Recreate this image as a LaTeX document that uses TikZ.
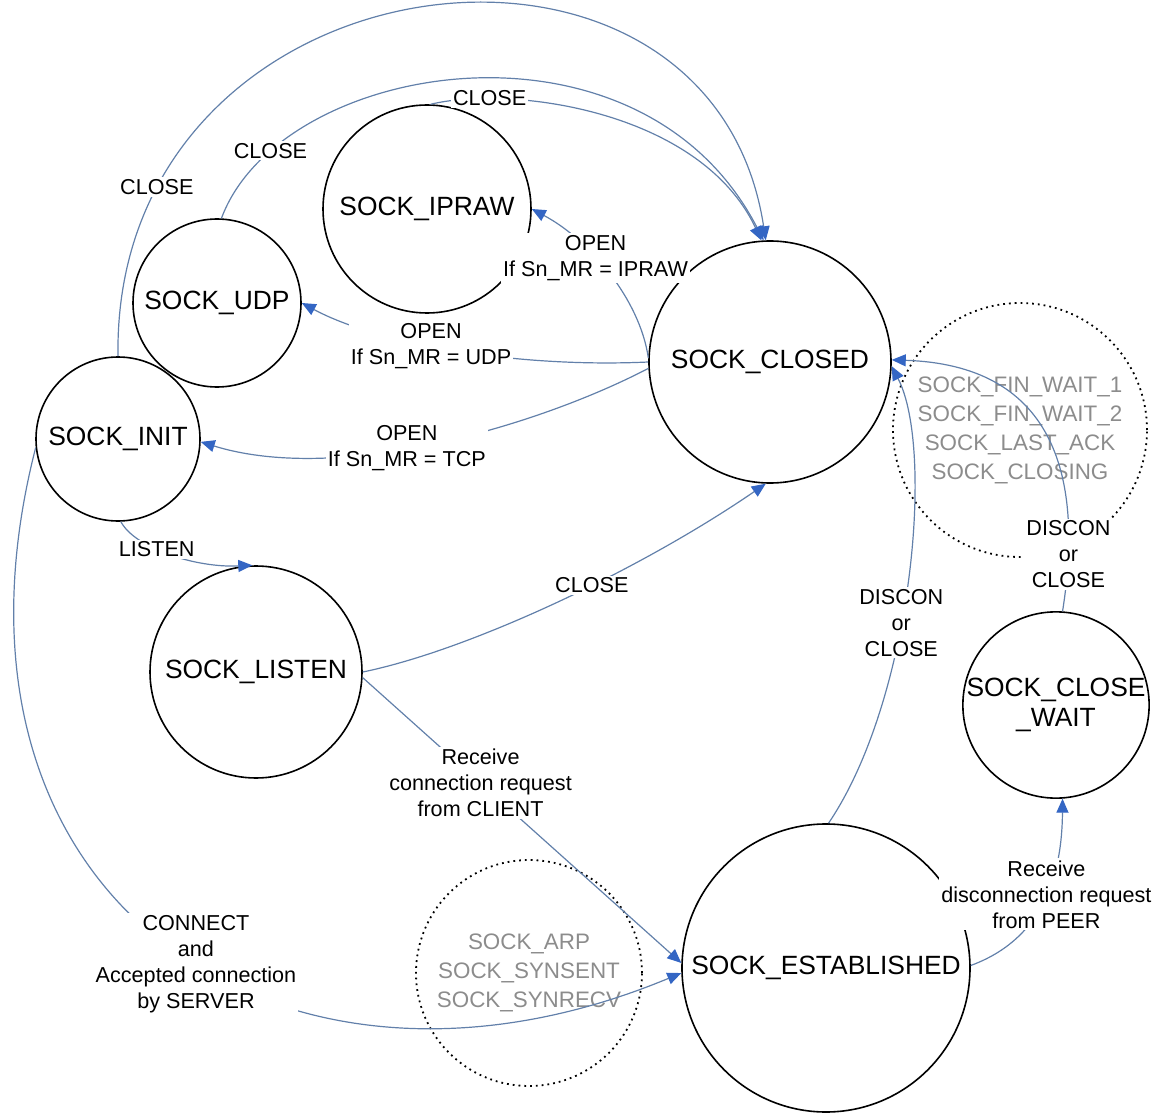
\documentclass[tikz,border=0pt]{standalone}
\usepackage{fontspec}
\setmainfont{Liberation Sans}
\usepackage{tikz}
\usetikzlibrary{shapes,arrows.meta}
\definecolor{linkblue}{RGB}{98,128,170}
\definecolor{tipblue}{RGB}{52,102,196}
\definecolor{ghost}{RGB}{140,140,140}

\begin{document}
\begin{tikzpicture}[x=0.5pt, y=-0.5pt,
    sockstate/.style={circle, draw=black, line width=0.8pt, inner sep=0pt, align=center, font=\fontsize{13.2}{15}\selectfont},
    substate/.style={circle, draw=black, dotted, line width=0.9pt, inner sep=0pt, align=center, text=ghost, font=\fontsize{11.2}{14.5}\selectfont},
    trans/.style={draw=linkblue, line width=0.6pt},
    transarrow/.style={trans, -{Triangle[length=7pt,width=6pt,color=tipblue]}},
    lbl/.style={fill=white, inner sep=1pt, align=center, font=\fontsize{10.8}{13}\selectfont}]
    \useasboundingbox (0,0) rectangle (1158,1113);

    % states
    \node (ipraw)[sockstate, minimum size=104pt] at (427,209) {SOCK\_IPRAW};
    \node (udp)[sockstate, minimum size=84pt] at (217,303) {SOCK\_UDP};
    \node (init)[sockstate, minimum size=82pt] at (118,439) {SOCK\_INIT};
    \node (listen)[sockstate, minimum size=106pt] at (256,672) {SOCK\_LISTEN};
    \node (closed)[sockstate, minimum size=121pt] at (770,362) {SOCK\_CLOSED};
    \node (closewait)[sockstate, minimum size=93pt] at (1056,705) {SOCK\_CLOSE\\\_WAIT};
    \node (est)[sockstate, minimum size=144pt] at (826,968) {SOCK\_ESTABLISHED};

    % intermediate states
    \node (fin)[substate, minimum size=127pt] at (1020,430) {SOCK\_FIN\_WAIT\_1\\SOCK\_FIN\_WAIT\_2\\SOCK\_LAST\_ACK\\SOCK\_CLOSING};
    \node (syn)[substate, minimum size=113pt] at (529,973) {SOCK\_ARP\\SOCK\_SYNSENT\\SOCK\_SYNRECV};

    % CLOSE back to SOCK_CLOSED
    \draw[transarrow] (init.90) .. controls (112,-50) and (710,-125) .. node[lbl, pos=0.16] {CLOSE} (closed.92);
    \draw[transarrow] (udp.87) .. controls (280,60) and (640,0) .. node[lbl, pos=0.16] {CLOSE} (closed.93);
    \draw[transarrow] (ipraw.88) .. controls (510,85) and (700,110) .. node[lbl, pos=0.2] {CLOSE} (closed.94);
    \draw[transarrow] (listen.0) .. controls (470,650) and (640,570) .. node[lbl, pos=0.58] {CLOSE} (closed.268);

    % OPEN
    \draw[transarrow] (closed.178) .. controls (640,300) and (590,240) .. node[lbl, pos=0.6] {OPEN\\If Sn\_MR = IPRAW} (ipraw.0);
    \draw[transarrow] (closed.180) .. controls (520,368) and (380,345) .. node[lbl, pos=0.57] {OPEN\\If Sn\_MR = UDP} (udp.0);
    \draw[transarrow] (closed.183) .. controls (540,425) and (340,485) .. node[lbl, pos=0.56] {OPEN\\If Sn\_MR = TCP} (init.358);

    % LISTEN and connections
    \draw[transarrow] (init.272) .. controls (135,548) and (195,568) .. node[lbl, pos=0.4] {LISTEN} (listen.92);
    \draw[transarrow] (listen.357) -- node[lbl, pos=0.37] {Receive\\connection request\\from CLIENT} (est.178);
    \draw[transarrow] (init.186) .. controls (-80,900) and (280,1140) .. node[lbl, pos=0.54] {CONNECT\\and\\Accepted connection\\by SERVER} (est.182);

    % disconnection
    \draw[transarrow] (est.89) .. controls (912,700) and (935,450) .. node[lbl, pos=0.42] {DISCON\\or\\CLOSE} (closed.358);
    \draw[transarrow] (est.1) .. controls (1040,940) and (1062,880) .. node[lbl, pos=0.55] {Receive\\disconnection request\\from PEER} (closewait.274);
    \draw[transarrow] (closewait.86) .. controls (1085,470) and (1050,365) .. node[lbl, pos=0.14] {DISCON\\or\\CLOSE} (closed.1);
\end{tikzpicture}
\end{document}
